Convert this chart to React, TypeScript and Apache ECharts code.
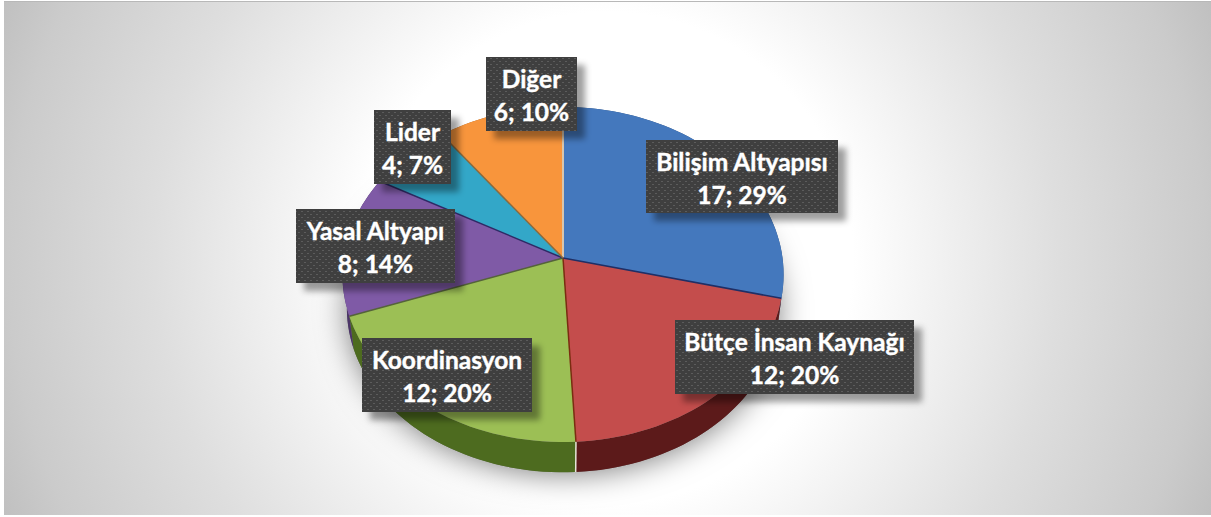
import React, { useEffect, useRef } from "react";
import * as echarts from "echarts";

const categories = ["Bilişim Altyapısı", "Bütçe İnsan Kaynağı", "Koordinasyon", "Yasal Altyapı", "Lider", "Diğer"];
const values = [17, 12, 12, 8, 4, 6];
const percents = [29, 20, 20, 14, 7, 10];
const topColors = ["#4478bd", "#c44d4c", "#9cbf55", "#7f5aa6", "#33a7c8", "#f8953c"];
const sideColors = ["#2c4d7a", "#5c1a1a", "#4d6b1f", "#4c3568", "#1f6a80", "#a05c20"];
const seamColors = ["#d9c6ad", "#1f2f66", "#7a2c10", "#55633a", "#2f2a66", "#8a6a3e"];
// label boxes: left, top, width, height
const labelBoxes = [
  [646, 140, 192, 73],
  [675, 320, 239, 74],
  [362, 338, 170, 74],
  [296, 209, 159, 74],
  [374, 110, 77, 74],
  [486, 57, 91, 74],
];

const CX = 563, CY = 258, A = 219.5, B = 165.9, K = 0.0985;
const total = values.reduce((s, v) => s + v, 0);

function project(theta: number): [number, number] {
  const u = Math.sin(theta), v = -Math.cos(theta), w = 1 - K * v;
  return [(A * u) / w, (B * v) / w];
}
const topPt = (t: number): number[] => { const [x, y] = project(t); return [CX + x, CY + y]; };
const lowPt = (t: number): number[] => { const [x, y] = project(t); return [CX + x * 0.98, CY + y * 0.98 + 34]; };

function range(index: number): [number, number] {
  let before = 0;
  for (let i = 0; i < index; i++) before += values[i];
  return [(before / total) * Math.PI * 2, ((before + values[index]) / total) * Math.PI * 2];
}
function arc(a: number, b: number, f: (t: number) => number[]) {
  const n = Math.max(4, Math.ceil(((b - a) / (Math.PI * 2)) * 180));
  const pts: number[][] = [];
  for (let i = 0; i <= n; i++) pts.push(f(a + ((b - a) * i) / n));
  return pts;
}

function dotTile() {
  const c = document.createElement("canvas");
  c.width = 6; c.height = 6;
  const g = c.getContext("2d")!;
  g.fillStyle = "#3f3f3f"; g.fillRect(0, 0, 6, 6);
  g.fillStyle = "#5c5c5c"; g.fillRect(1, 1, 2, 1); g.fillRect(4, 4, 2, 1);
  return c;
}

export default function App() {
  const ref = useRef<HTMLDivElement>(null);
  useEffect(() => {
    document.body.style.margin = "0";
    const chart = echarts.init(ref.current!, null, { renderer: "svg" });
    const tile = dotTile();
    chart.setOption({
      animation: false,
      graphic: [
        {
          type: "rect", z: -10, silent: true,
          shape: { x: 4, y: 1, width: 1207, height: 514 },
          style: {
            fill: new echarts.graphic.RadialGradient(607, 258, 665, [
              { offset: 0, color: "#ffffff" },
              { offset: 0.37, color: "#ffffff" },
              { offset: 0.68, color: "#dedede" },
              { offset: 0.9, color: "#cbcbcb" },
              { offset: 1, color: "#bebebe" },
            ], true),
          },
        },
        { type: "rect", z: -9, silent: true, shape: { x: 4, y: 1, width: 1207, height: 1 }, style: { fill: "#b8b8b8" } },
      ],
      series: [
        {
          type: "custom", name: "shadow", coordinateSystem: "none", silent: true, z: 1,
          data: [total],
          renderItem: () => ({
            type: "polygon",
            shape: { points: arc(0, Math.PI * 2, lowPt) },
            style: { fill: "#777", shadowBlur: 30, shadowColor: "rgba(0,0,0,0.5)", shadowOffsetX: 0, shadowOffsetY: 2 },
          }),
        },
        {
          type: "custom", name: "side", coordinateSystem: "none", silent: true, z: 2,
          data: values,
          renderItem: (p: any) => {
            const [a, b] = range(p.dataIndex);
            const outer = arc(a, b, topPt);
            const inner = arc(a, b, lowPt).reverse();
            const children: any[] = [
              { type: "polygon", shape: { points: outer.concat(inner) }, style: { fill: sideColors[p.dataIndex] } },
            ];
            if (p.dataIndex === 2) {
              children.push({ type: "line", shape: { x1: topPt(a)[0], y1: topPt(a)[1], x2: lowPt(a)[0], y2: lowPt(a)[1] }, style: { stroke: "#e6e6d8", lineWidth: 1.5 } });
            }
            return { type: "group", children };
          },
        },
        {
          type: "custom", name: "top", coordinateSystem: "none", silent: true, z: 3,
          data: values,
          renderItem: (p: any) => {
            const [a, b] = range(p.dataIndex);
            const pts = [[CX, CY]].concat(arc(a, b, topPt));
            return { type: "polygon", shape: { points: pts }, style: { fill: topColors[p.dataIndex] } };
          },
        },
        {
          type: "custom", name: "seams", coordinateSystem: "none", silent: true, z: 4,
          data: values,
          renderItem: (p: any) => {
            const [a] = range(p.dataIndex);
            const e = topPt(a);
            return {
              type: "line",
              shape: { x1: CX, y1: CY, x2: e[0], y2: e[1] },
              style: { stroke: seamColors[p.dataIndex], lineWidth: p.dataIndex === 0 ? 2 : 1.5 },
            };
          },
        },
        {
          type: "custom", name: "labels", coordinateSystem: "none", silent: true, z: 5,
          data: values,
          renderItem: (p: any) => {
            const i = p.dataIndex;
            const [x, y, w, h] = labelBoxes[i];
            return {
              type: "group",
              children: [
                { type: "rect", shape: { x, y, width: w, height: h }, style: { fill: "#3f3f3f", shadowBlur: 6, shadowOffsetX: 8, shadowOffsetY: 8, shadowColor: "rgba(0,0,0,0.38)" } },
                { type: "rect", shape: { x, y, width: w, height: h }, style: { fill: { image: tile, repeat: "repeat" } } },
                {
                  type: "text",
                  style: {
                    text: `${categories[i]}\n${values[i]}; ${percents[i]}%`,
                    x: x + w / 2, y: y + h / 2 + 1,
                    align: "center", verticalAlign: "middle",
                    fill: "#ffffff", stroke: "#ffffff", lineWidth: 0.4,
                    font: "bold 24.5px Lato", lineHeight: 33,
                  },
                },
              ],
            };
          },
        },
      ],
    });
    return () => chart.dispose();
  }, []);
  return <div ref={ref} style={{ position: "fixed", left: 0, top: 0, width: 1211, height: 517, background: "#fff" }} />;
}
